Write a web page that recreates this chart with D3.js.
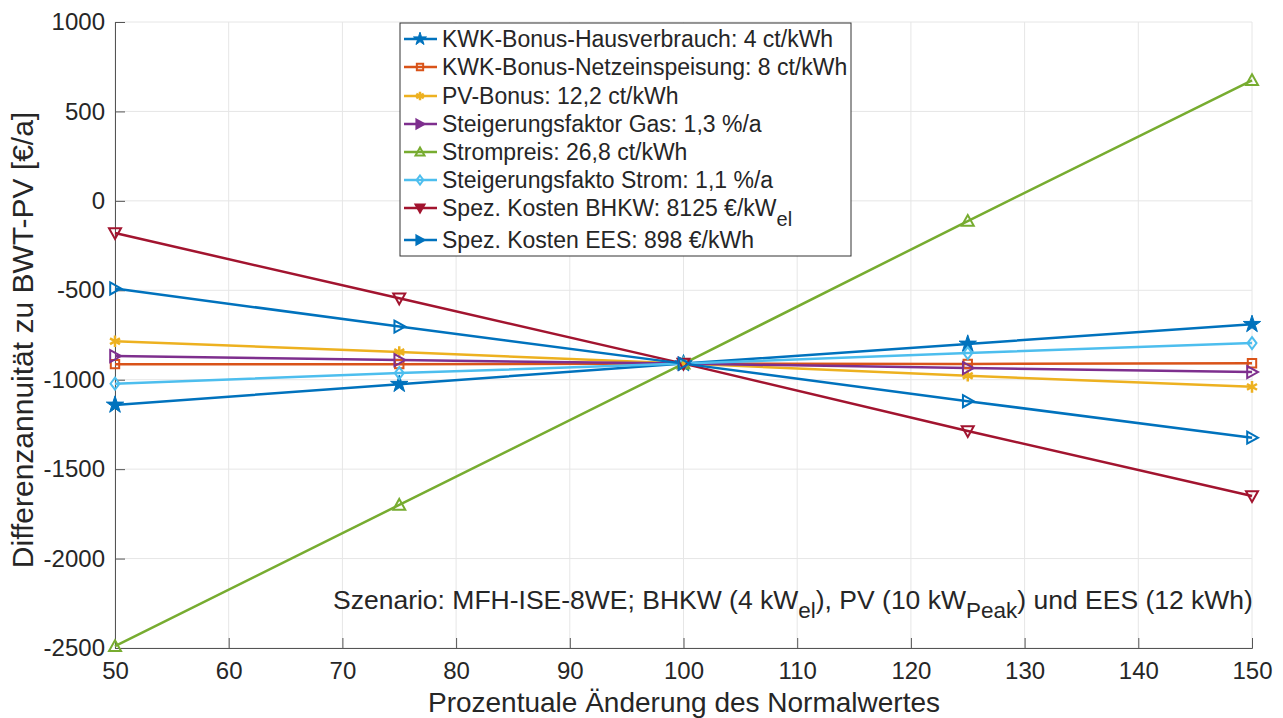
<!DOCTYPE html>
<html>
<head>
<meta charset="utf-8">
<script src="https://cdn.jsdelivr.net/npm/d3@7"></script>
<style>
body{margin:0;background:#fff;}
text{font-family:"Liberation Sans",Arial,sans-serif;fill:#262626;}
</style>
</head>
<body>
<script>
// ---------------- daten
var xWerte = [50, 75, 100, 125, 150];
var serienNamen = [
  "KWK-Bonus-Hausverbrauch: 4 ct/kWh",
  "KWK-Bonus-Netzeinspeisung: 8 ct/kWh",
  "PV-Bonus: 12,2 ct/kWh",
  "Steigerungsfaktor Gas: 1,3 %/a",
  "Strompreis: 26,8 ct/kWh",
  "Steigerungsfakto Strom: 1,1 %/a",
  "Spez. Kosten BHKW: 8125 €/kW",
  "Spez. Kosten EES: 898 €/kWh"
];
var kwkHaus   = [-1141, -1025, -910, -800, -690];
var kwkNetz   = [-913, -913, -910, -912, -908];
var pvBonus   = [-785, -845, -910, -978, -1040];
var gasFaktor = [-868, -890, -910, -935, -957];
var strompreis= [-2490, -1700, -910, -113, 674];
var stromFakt = [-1022, -963, -910, -851, -795];
var kostenBhkw= [-180, -545, -910, -1287, -1650];
var kostenEes = [-490, -703, -910, -1120, -1324];
var serien = [kwkHaus, kwkNetz, pvBonus, gasFaktor, strompreis, stromFakt, kostenBhkw, kostenEes];
var xTicks = [50, 60, 70, 80, 90, 100, 110, 120, 130, 140, 150];
var yTicks = [-2500, -2000, -1500, -1000, -500, 0, 500, 1000];

var farben = ["#0072BD", "#D95319", "#EDB120", "#7E2F8E", "#77AC30", "#4DBEEE", "#A2142F", "#0072BD"];
var marker = ["stern", "quadrat", "asterisk", "rechts", "oben", "raute", "unten", "rechts"];
var gefuellt = [true, false, true, false, false, false, false, false];

// ---------------- layout
var breite = 1283, hoehe = 718;
var rand = {links: 115, rechts: 1252, oben: 22, unten: 648};

var svg = d3.select("body").append("svg").attr("width", breite).attr("height", hoehe);

var x = d3.scaleLinear().domain([50, 150]).range([rand.links, rand.rechts]);
var y = d3.scaleLinear().domain([-2500, 1000]).range([rand.unten, rand.oben]);

// gitter
svg.append("g").selectAll("line").data(xTicks).enter().append("line")
  .attr("x1", function (d) { return x(d); }).attr("x2", function (d) { return x(d); })
  .attr("y1", rand.oben).attr("y2", rand.unten)
  .attr("stroke", "#e6e6e6").attr("stroke-width", 1);
svg.append("g").selectAll("line").data(yTicks).enter().append("line")
  .attr("y1", function (d) { return y(d); }).attr("y2", function (d) { return y(d); })
  .attr("x1", rand.links).attr("x2", rand.rechts)
  .attr("stroke", "#e6e6e6").attr("stroke-width", 1);

// achsen (bindestrich statt minuszeichen wie im original)
function zahl(d) { return String(d); }
var xAchse = svg.append("g").attr("transform", "translate(0," + rand.unten + ")")
  .call(d3.axisBottom(x).tickValues(xTicks).tickSize(-10).tickPadding(14).tickFormat(zahl));
var yAchse = svg.append("g").attr("transform", "translate(" + rand.links + ",0)")
  .call(d3.axisLeft(y).tickValues(yTicks).tickSize(-10).tickPadding(10).tickFormat(zahl));
[xAchse, yAchse].forEach(function (a) {
  a.select(".domain").attr("stroke", "#555");
  a.selectAll(".tick line").attr("stroke", "#555");
  a.selectAll(".tick text").attr("font-size", 24).style("font-family", "'Liberation Sans',Arial,sans-serif").attr("fill", "#262626");
});

// achsentitel
svg.append("text").attr("x", 684).attr("y", 712)
  .attr("text-anchor", "middle").attr("font-size", 28).text("Prozentuale Änderung des Normalwertes");
svg.append("text").attr("transform", "translate(33,340) rotate(-90)")
  .attr("text-anchor", "middle").attr("font-size", 30).text("Differenzannuität zu BWT-PV [€/a]");

// marker
function zeichneMarker(g, typ, farbe, voll, gr) {
  var s = gr || 6, p;
  if (typ === "stern") {
    g.append("path").attr("d", d3.symbol().type(d3.symbolStar).size(s * s * 2.6)())
      .attr("fill", farbe).attr("stroke", farbe).attr("stroke-width", 1);
    return;
  }
  if (typ === "asterisk") {
    g.append("path").attr("d", d3.symbol().type(d3.symbolAsterisk).size(s * s * 2.6)())
      .attr("fill", farbe).attr("stroke", farbe).attr("stroke-width", 2.5);
    return;
  }
  if (typ === "quadrat") p = [[-s * 0.7, -s * 0.7], [s * 0.7, -s * 0.7], [s * 0.7, s * 0.7], [-s * 0.7, s * 0.7]];
  if (typ === "raute") p = [[0, -s], [s * 0.75, 0], [0, s], [-s * 0.75, 0]];
  if (typ === "rechts") p = [[-s * 0.8, -s], [s, 0], [-s * 0.8, s]];
  if (typ === "oben") p = [[0, -s], [s, s * 0.8], [-s, s * 0.8]];
  if (typ === "unten") p = [[0, s], [s, -s * 0.8], [-s, -s * 0.8]];
  g.append("path").attr("d", "M" + p.join("L") + "Z")
    .attr("fill", voll ? farbe : "none").attr("stroke", farbe).attr("stroke-width", 2);
}

// linien
var linie = d3.line().x(function (d, i) { return x(xWerte[i]); }).y(function (d) { return y(d); });
var plot = svg.append("g");
serien.forEach(function (s, k) {
  plot.append("path").datum(s).attr("d", linie)
    .attr("fill", "none").attr("stroke", farben[k]).attr("stroke-width", 2.5);
});
serien.forEach(function (s, k) {
  s.forEach(function (v, i) {
    var g = plot.append("g").attr("transform", "translate(" + x(xWerte[i]) + "," + y(v) + ")");
    zeichneMarker(g, marker[k], farben[k], gefuellt[k], 6);
  });
});

// legende
var leg = svg.append("g");
leg.append("rect").attr("x", 400).attr("y", 23).attr("width", 451).attr("height", 233)
  .attr("fill", "#fff").attr("stroke", "#333").attr("stroke-width", 1);
var legY = [39, 67, 96, 124, 152, 180, 208, 240];
serienNamen.forEach(function (n, k) {
  var yy = legY[k];
  leg.append("line").attr("x1", 404).attr("x2", 437).attr("y1", yy).attr("y2", yy)
    .attr("stroke", farben[k]).attr("stroke-width", 2.5);
  var g = leg.append("g").attr("transform", "translate(420," + yy + ")");
  zeichneMarker(g, marker[k], farben[k], k === 3 || k === 7 || k === 6 || k === 0 || k === 2, 4.5);
  var t = leg.append("text").attr("x", 442).attr("y", yy + 8).attr("font-size", 23).text(n);
  if (k === 6) t.append("tspan").attr("font-size", 20).attr("dy", 10).text("el");
});

// szenario
var sz = svg.append("text").attr("x", 333).attr("y", 609).attr("font-size", 26.5);
sz.append("tspan").text("Szenario: MFH-ISE-8WE; BHKW (4 kW");
sz.append("tspan").attr("font-size", 22.5).attr("dy", 9).text("el");
sz.append("tspan").attr("dy", -9).text("), PV (10 kW");
sz.append("tspan").attr("font-size", 22.5).attr("dy", 9).text("Peak");
sz.append("tspan").attr("dy", -9).text(") und EES (12 kWh)");
</script>
</body>
</html>
